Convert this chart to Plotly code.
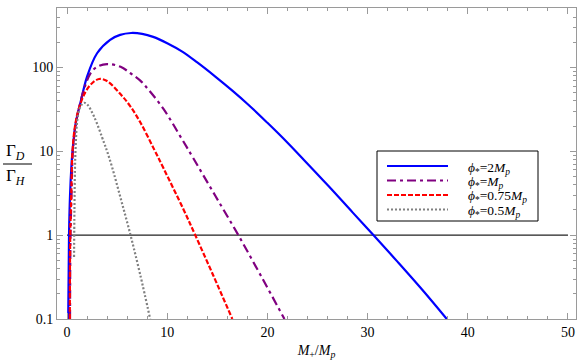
import plotly.graph_objects as go

# ---- data (x = M+/Mp, y = Gamma_D/Gamma_H) ----
blue_x = [0.12, 0.2, 0.3, 0.45, 0.55, 0.8, 1.0, 1.36, 2.0, 3.0, 4.3, 5.3, 6.4, 7.5, 8.6, 10.0,
          11.5, 13.0, 14.8, 16.5, 18.1, 20.0, 21.5, 23.6, 26.1, 28.5, 30.6, 33.0, 35.5, 37.9]
blue_y = [0.1, 1.0, 3.0, 7.0, 10.0, 19.0, 26.0, 39.0, 78.0, 148.0, 214.0, 245.0, 258.0, 252.0, 232.0, 195.0,
          155.0, 115.0, 78.0, 53.0, 36.0, 21.9, 14.6, 8.0, 3.85, 1.87, 1.0, 0.48, 0.22, 0.1]

purple_x = [0.3, 0.35, 0.45, 0.58, 0.85, 1.3, 1.8, 2.36, 3.0, 4.0, 5.35, 6.3, 7.34, 8.17, 9.66,
            11.5, 12.65, 14.8, 17.1, 19.4, 21.7]
purple_y = [0.1, 1.0, 3.0, 10.0, 20.0, 37.0, 60.0, 86.0, 102.0, 110.0, 102.0, 86.0, 69.2, 53.7, 31.6,
            13.8, 8.1, 2.95, 1.0, 0.32, 0.1]

red_x = [0.28, 0.32, 0.42, 0.55, 0.8, 1.2, 1.86, 2.5, 3.2, 4.0, 5.35, 6.3, 7.34, 8.67, 9.66,
         11.65, 12.8, 14.6, 16.5]
red_y = [0.1, 1.0, 3.0, 10.0, 20.0, 33.0, 51.6, 65.0, 73.0, 69.0, 47.9, 34.7, 21.9, 10.7, 6.17,
         2.0, 1.0, 0.33, 0.1]

gray_x = [0.7, 0.74, 0.79, 0.87, 1.0, 1.2, 1.45, 1.7, 2.0, 2.7, 3.7, 4.0, 4.5, 5.4, 6.34, 7.3, 8.3]
gray_y = [0.55, 2.0, 6.0, 12.0, 22.0, 31.0, 35.9, 38.0, 36.5, 26.0, 12.6, 10.0, 6.46, 2.63, 1.0, 0.34, 0.1]

ref_x = [0, 50]
ref_y = [1, 1]

names = ["<i>ϕ</i><sub>*</sub>=2<i>M</i><sub><i>p</i></sub>",
         "<i>ϕ</i><sub>*</sub>=<i>M</i><sub><i>p</i></sub>",
         "<i>ϕ</i><sub>*</sub>=0.75<i>M</i><sub><i>p</i></sub>",
         "<i>ϕ</i><sub>*</sub>=0.5<i>M</i><sub><i>p</i></sub>"]
colors = ["#0000ff", "#800080", "#ff0000", "#808080"]
dashes = ["solid", "9px,4px,3px,4px", "5px,2px", "2px,2px"]

x_ticks = [0, 10, 20, 30, 40, 50]

SERIF = "Liberation Serif"
FRAME = "#9a9a9a"

# plot-area geometry (pixels) for placing the hand-made legend / y title
L, R, T, B = 57, 576, 8, 319
W, H = R - L, B - T


def px(x):
    return (x - L) / W


def py(y):
    return (B - y) / H


fig = go.Figure()
fig.add_trace(go.Scatter(x=ref_x, y=ref_y, mode="lines", showlegend=False,
                         line=dict(color="#222222", width=1.2), hoverinfo="skip"))

series = [(blue_x, blue_y), (purple_x, purple_y), (red_x, red_y), (gray_x, gray_y)]
for (xs, ys), nm, col, dash in zip(series, names, colors, dashes):
    fig.add_trace(go.Scatter(x=xs, y=ys, mode="lines", name=nm, showlegend=False,
                             line=dict(color=col, dash=dash, width=2.2, shape="spline", smoothing=1.0)))

fig.update_layout(
    width=581, height=364,
    margin=dict(l=L, r=581 - R, t=T, b=364 - B),
    paper_bgcolor="white", plot_bgcolor="white",
    font=dict(family=SERIF, size=14, color="black"),
    showlegend=False,
    xaxis=dict(range=[-1, 50.8], tickvals=x_ticks, showgrid=False, zeroline=False, automargin=False,
               showline=True, linecolor=FRAME, linewidth=1, mirror="allticks",
               ticks="inside", ticklen=6, tickcolor=FRAME,
               minor=dict(dtick=2, ticks="inside", ticklen=3, tickcolor=FRAME, showgrid=False),
               title=dict(text="<i>M</i><sub>+</sub>/<i>M</i><sub><i>p</i></sub>",
                          font=dict(family=SERIF, size=14), standoff=6)),
    yaxis=dict(type="log", range=[-1, 2.71], dtick=1, showgrid=False, zeroline=False, automargin=False,
               showline=True, linecolor=FRAME, linewidth=1, mirror="allticks",
               ticks="inside", ticklen=6, tickcolor=FRAME,
               minor=dict(dtick="D1", ticks="inside", ticklen=3, tickcolor=FRAME, showgrid=False)),
)

# y-axis title as a stacked fraction
fig.add_annotation(xref="paper", yref="paper", x=px(4), y=py(152), text="Γ<sub><i>D</i></sub>",
                   showarrow=False, xanchor="left", font=dict(family=SERIF, size=17))
fig.add_annotation(xref="paper", yref="paper", x=px(4), y=py(177), text="Γ<sub><i>H</i></sub>",
                   showarrow=False, xanchor="left", font=dict(family=SERIF, size=17))
fig.add_shape(type="line", xref="paper", yref="paper", x0=px(3), x1=px(32), y0=py(164), y1=py(164),
              line=dict(color="black", width=1))

# legend box drawn by hand (Mathematica-style compact legend)
fig.add_shape(type="rect", xref="paper", yref="paper", x0=px(377), x1=px(538), y0=py(151), y1=py(221),
              line=dict(color="black", width=1), fillcolor="white", layer="above")
rows = [166, 180.5, 195, 209.5]
for yy, nm, col, dash in zip(rows, names, colors, dashes):
    fig.add_shape(type="line", xref="paper", yref="paper", x0=px(387), x1=px(448), y0=py(yy), y1=py(yy),
                  line=dict(color=col, dash=dash, width=2.2), layer="above")
    fig.add_annotation(xref="paper", yref="paper", x=px(466), y=py(yy + 2), text=nm, showarrow=False,
                       xanchor="left", yanchor="middle", font=dict(family=SERIF, size=13.5))

fig.write_html("out.html", config={"displayModeBar": False},
               post_script="document.body.style.margin='0';document.body.style.padding='0';")
